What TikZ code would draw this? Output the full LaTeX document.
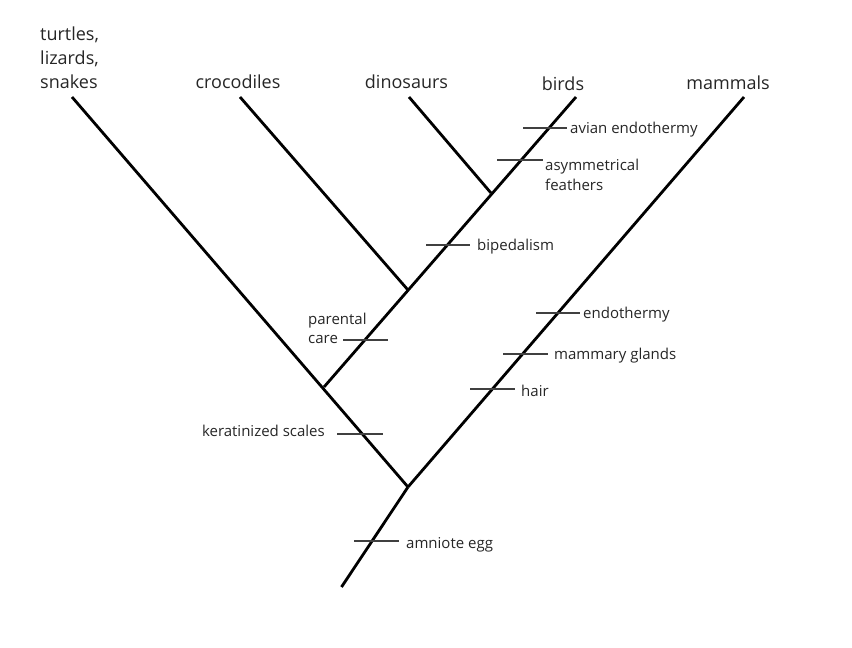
\documentclass[tikz,border=0pt]{standalone}
\usepackage{fontspec}
\setmainfont{Open Sans}
\begin{document}
\begin{tikzpicture}[x=1pt,y=-1pt,
  branch/.style={line width=2.8pt,black},
  tick/.style={line width=1.4pt,black!75},
  big/.style={font=\fontsize{18}{23}\selectfont,text=black!85,inner sep=0pt},
  small/.style={font=\fontsize{15}{20}\selectfont,text=black!85,inner sep=0pt}]
\useasboundingbox (0,0) rectangle (852,648);
% branch points and tips
\coordinate (root) at (341.5,587);
\coordinate (n1) at (408,487);
\coordinate (n2) at (324,387);
\coordinate (n3) at (408,290);
\coordinate (n4) at (491,193);
\coordinate (tTur) at (72,97);
\coordinate (tCro) at (240,97);
\coordinate (tDin) at (409,97);
\coordinate (tBir) at (576,97);
\coordinate (tMam) at (744,97);
% branches
\draw[branch] (root) -- (n1);
\draw[branch] (n1) -- (tTur);
\draw[branch] (n1) -- (tMam);
\draw[branch] (n2) -- (tBir);
\draw[branch] (n3) -- (tCro);
\draw[branch] (n4) -- (tDin);
% tip labels
\node[big,anchor=base west] (lTur1) at (40,40) {turtles,};
\node[big,anchor=base west] (lTur2) at (40,64) {lizards,};
\node[big,anchor=base west] (lTur3) at (40,88) {snakes};
\node[big,anchor=base] (lCro) at (238,88) {crocodiles};
\node[big,anchor=base] (lDin) at (406.5,88) {dinosaurs};
\node[big,anchor=base] (lBir) at (563,90.5) {birds};
\node[big,anchor=base] (lMam) at (728,89.5) {mammals};
% ticks
\coordinate (a1) at (354,541); \coordinate (a2) at (399,541);
\draw[tick] (a1) -- (a2);
\node[small,anchor=base west] (lAmn) at (406,548.5) {amniote egg};
\coordinate (k1) at (337,434); \coordinate (k2) at (383,434);
\draw[tick] (k1) -- (k2);
\node[small,anchor=base east] (lKer) at (325,436.5) {keratinized scales};
\coordinate (p1) at (343,340); \coordinate (p2) at (388,340);
\draw[tick] (p1) -- (p2);
\node[small,anchor=base west] (lPar1) at (308,324.5) {parental};
\node[small,anchor=base west] (lPar2) at (308,343.5) {care};
\coordinate (b1) at (426,245); \coordinate (b2) at (470,245);
\draw[tick] (b1) -- (b2);
\node[small,anchor=base west] (lBip) at (477,250.5) {bipedalism};
\coordinate (f1) at (497,160); \coordinate (f2) at (543,160);
\draw[tick] (f1) -- (f2);
\node[small,anchor=base west] (lFea1) at (545,170.5) {asymmetrical};
\node[small,anchor=base west] (lFea2) at (545,190.5) {feathers};
\coordinate (e1) at (523,128); \coordinate (e2) at (567,128);
\draw[tick] (e1) -- (e2);
\node[small,anchor=base west] (lAvi) at (570,133) {avian endothermy};
\coordinate (m1) at (536,313); \coordinate (m2) at (580,313);
\draw[tick] (m1) -- (m2);
\node[small,anchor=base west] (lEnd) at (583,318.5) {endothermy};
\coordinate (g1) at (503,354); \coordinate (g2) at (548,354);
\draw[tick] (g1) -- (g2);
\node[small,anchor=base west] (lMg) at (554,359) {mammary glands};
\coordinate (h1) at (470,389); \coordinate (h2) at (515,389);
\draw[tick] (h1) -- (h2);
\node[small,anchor=base west] (lHair) at (521,396) {hair};
\end{tikzpicture}
\end{document}
